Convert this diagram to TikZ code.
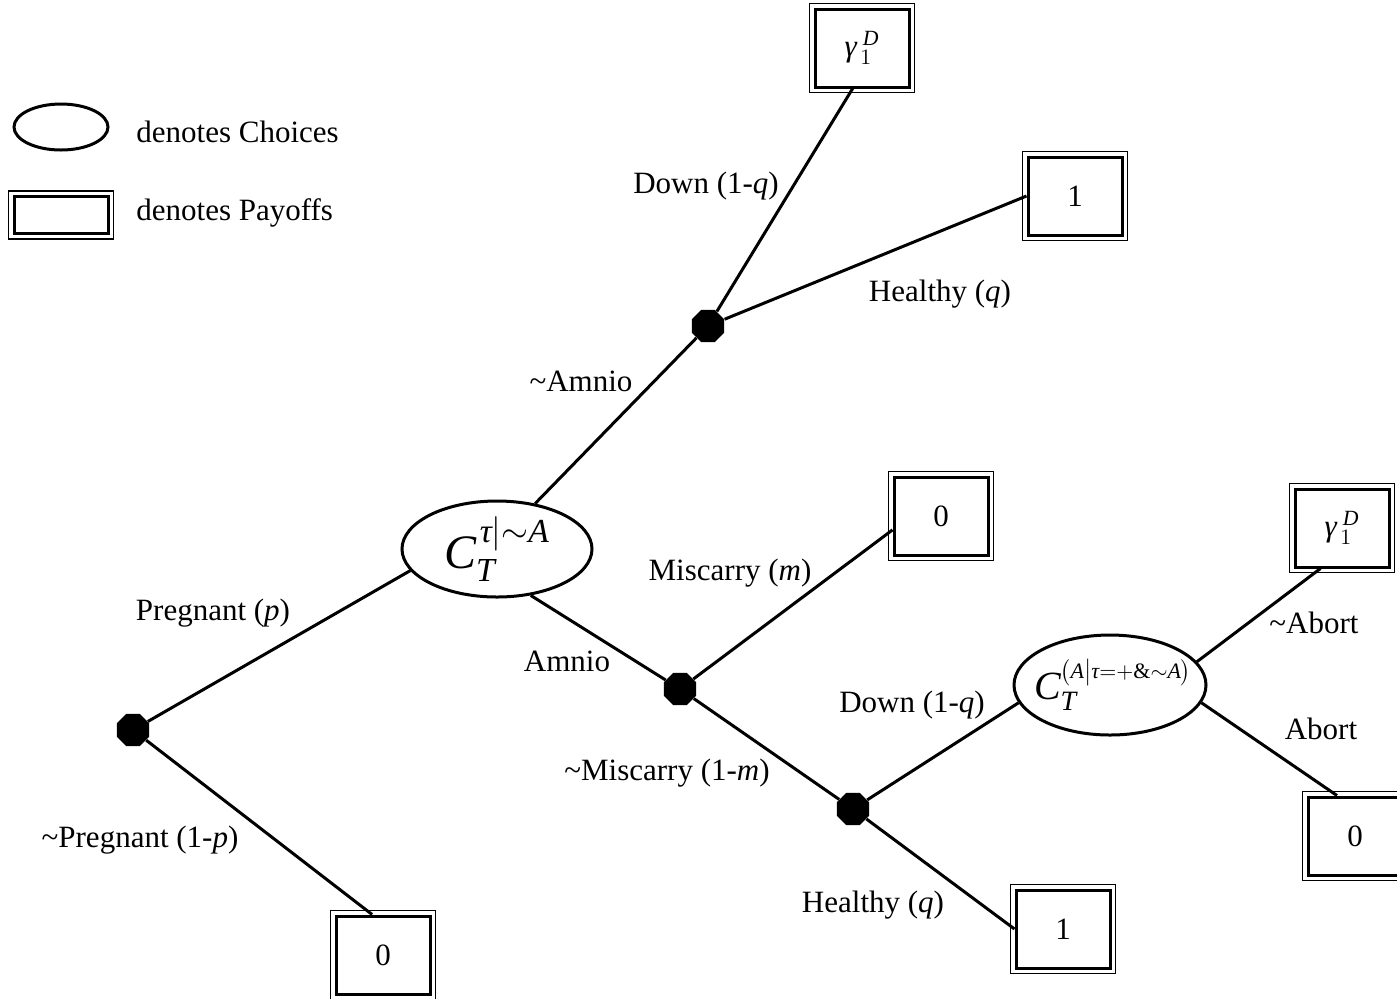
\documentclass[tikz,border=0pt]{standalone}
\usepackage{fontspec}
\usepackage{amsmath}
\setmainfont{Liberation Serif}
\usetikzlibrary{shapes,positioning}

\begin{document}
\begin{tikzpicture}[
    x=0.5pt, y=-0.5pt,
    font=\fontsize{15.5}{18}\selectfont,
    choice/.style={ellipse, draw, line width=1.5pt, minimum width=95pt, minimum height=48pt, inner sep=0pt},
    chance/.style={regular polygon, regular polygon sides=8, fill, inner sep=0pt, minimum size=17.5pt},
    payoff/.style={rectangle, draw, line width=1.5pt, minimum width=47pt, minimum height=39pt, inner sep=0pt},
    branch/.style={draw, line width=1.5pt},
    lbl/.style={anchor=base, inner sep=0pt}
]
    \useasboundingbox (0,0) rectangle (1397,998);

    \node[choice, minimum width=47pt, minimum height=23pt] (legChoice) at (61,127) {};
    \node[payoff, minimum width=47pt, minimum height=18.5pt] (legPayoff) at (61,215) {};
    \node[lbl, anchor=base west] (legChoiceTxt) at (136,142) {denotes Choices};
    \node[lbl, anchor=base west] (legPayoffTxt) at (136,220) {denotes Payoffs};

    \node[chance] (c0) at (133,730) {};
    \node[chance] (c1) at (708,326) {};
    \node[chance] (c2) at (680,689) {};
    \node[chance] (c3) at (853,809) {};

    \node[choice] (e1) at (497,549) {\fontsize{24}{28}\selectfont $\textit{C}_{\textit{T}}^{\mkern2mu\textit{τ}|\sim\textit{A}}$};
    \node[choice, minimum width=96pt, minimum height=50pt,
        label={[inner sep=0pt, xshift=1.5pt]center:\fontsize{20}{22}\selectfont $\textit{C}_{\textit{T}}^{\mbox{\fontsize{11}{12}\selectfont$\bigl(\textit{A}\big|\textit{τ}{=}{+}\&{\sim}\textit{A}\bigr)$}}$}] (e2) at (1110,685) {};

    \node[payoff] (gTop) at (862,48) {$\textit{γ}_{\mkern3mu 1}^{\mkern5mu\textit{D}}$};
    \node[payoff] (b1Top) at (1075,196) {1};
    \node[payoff] (b0Mid) at (941,516) {0};
    \node[payoff] (gRight) at (1342,528) {$\textit{γ}_{\mkern3mu 1}^{\mkern5mu\textit{D}}$};
    \node[payoff] (b0Right) at (1355,836) {0};
    \node[payoff] (b1Bot) at (1063,929) {1};
    \node[payoff] (b0Bot) at (383,955) {0};

    \foreach \b in {legPayoff,gTop,b1Top,b0Mid,gRight,b0Right,b1Bot,b0Bot}
        \draw[line width=0.6pt] ([shift={(-2pt,2pt)}]\b.north west) rectangle ([shift={(2pt,-2pt)}]\b.south east);

    \draw[branch] (c0) -- (e1.194);
    \draw[branch] (c0) -- (b0Bot.105);
    \draw[branch] (e1.50) -- (c1);
    \draw[branch] (c1) -- (gTop.257);
    \draw[branch] (c1) -- (b1Top.west);
    \draw[branch] (e1.306) -- (c2);
    \draw[branch] (c2) -- (b0Mid.196);
    \draw[branch] (c2) -- (c3);
    \draw[branch] (c3) -- (e2.191);
    \draw[branch] (c3) -- (b1Bot.west);
    \draw[branch] (e2.15) -- (gRight.242);
    \draw[branch] (e2.-11) -- (b0Right.114);

    \node[lbl] (lDownUp) at (706,193) {Down (1-\textit{q})};
    \node[lbl] (lHealthyUp) at (940,301) {Healthy (\textit{q})};
    \node[lbl] (lNoAmnio) at (581,391) {\textasciitilde Amnio};
    \node[lbl] (lMiscarry) at (730,580) {Miscarry (\textit{m})};
    \node[lbl] (lPregnant) at (213,620) {Pregnant (\textit{p})};
    \node[lbl] (lAmnio) at (567,671) {Amnio};
    \node[lbl] (lNoMiscarry) at (667,780) {\textasciitilde Miscarry (1-\textit{m})};
    \node[lbl] (lDownLow) at (912,712) {Down (1-\textit{q})};
    \node[lbl] (lNoPregnant) at (140,847) {\textasciitilde Pregnant (1-\textit{p})};
    \node[lbl] (lHealthyLow) at (873,912) {Healthy (\textit{q})};
    \node[lbl] (lNoAbort) at (1314,633) {\textasciitilde Abort};
    \node[lbl] (lAbort) at (1321,739) {Abort};
\end{tikzpicture}
\end{document}
